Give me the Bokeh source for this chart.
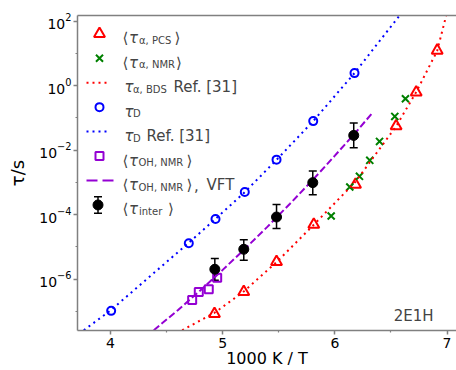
import numpy as np
from bokeh.plotting import figure
from bokeh.models import (FixedTicker, LogTickFormatter, Label, Whisker, TeeHead,
                          ColumnDataSource, LinearAxis, Range1d)
from bokeh.embed import file_html
from bokeh.resources import INLINE

# ---------------- data ----------------
# x = 1000 K / T, y = tau / s
x_alpha_pcs = [4.927, 5.188, 5.480, 5.812, 6.184, 6.546, 6.725, 6.912]
tau_alpha_pcs = [8.43e-8, 4.05e-7, 3.44e-6, 4.93e-5, 8.55e-4, 5.57e-2, 0.615, 12.3]

x_alpha_nmr = [5.967, 6.133, 6.219, 6.311, 6.398, 6.534, 6.629]
tau_alpha_nmr = [9.12e-5, 7.21e-4, 1.55e-3, 4.83e-3, 1.87e-2, 0.111, 0.393]

x_alpha_bds = [4.639, 4.927, 5.188, 5.480, 5.812, 6.184, 6.546, 6.725, 6.912, 6.992]
tau_alpha_bds = [2.63e-8, 9.12e-8, 4.17e-7, 3.39e-6, 4.90e-5, 1.05e-3, 5.50e-2, 0.631, 12.0, 148.0]

x_D = [4.006, 4.698, 4.936, 5.197, 5.480, 5.807, 6.175]
tau_D = [1.05e-7, 1.30e-5, 7.36e-5, 5.05e-4, 5.08e-3, 7.96e-2, 2.44]

x_D_ref = [3.762, 4.006, 4.698, 4.936, 5.197, 5.480, 5.807, 6.175, 6.576]
tau_D_ref = [2.63e-8, 1.12e-7, 1.35e-5, 7.41e-5, 5.01e-4, 5.01e-3, 7.94e-2, 2.45, 148.0]

x_oh = [4.728, 4.787, 4.876, 4.951]
tau_oh = [2.29e-7, 4.05e-7, 4.90e-7, 1.11e-6]

x_oh_vft = [4.386, 4.6, 4.8, 5.0, 5.2, 5.4, 5.6, 5.8, 6.0, 6.2, 6.341]
tau_oh_vft = [2.63e-8, 1.10e-7, 4.47e-7, 1.95e-6, 8.91e-6, 4.27e-5, 2.19e-4,
              1.17e-3, 6.76e-3, 4.07e-2, 0.151]

x_inter = [4.930, 5.188, 5.480, 5.803, 6.168]
tau_inter = [2.04e-6, 8.49e-6, 8.49e-5, 9.86e-4, 2.87e-2]
tau_inter_lo = [9.3e-7, 3.87e-6, 3.72e-5, 4.19e-4, 1.19e-2]
tau_inter_hi = [4.38e-6, 1.69e-5, 2.06e-4, 2.25e-3, 6.90e-2]

x_ticks = [4, 5, 6, 7]
x_minor = [4.5, 5.5, 6.5]
y_ticks = [1e-6, 1e-4, 1e-2, 1e0, 1e2]
y_minor = [1e-7, 1e-5, 1e-3, 1e-1, 1e1]

# ---------------- styling / layout ----------------
RED, GREEN, BLUE, PURPLE = "#ff0000", "#008000", "#0000ff", "#9400d3"
GRAY = "#808080"
FONT = "DejaVu Sans"
W, H = 456, 370
BL, BT, BB, BR = 77, 15, 40, 0
X0, X1 = 3.706, 7.084
LY0, LY1 = -7.588, 2.173

p = figure(width=W, height=H, x_range=Range1d(X0, X1),
           y_range=Range1d(10 ** LY0, 10 ** LY1), y_axis_type="log",
           output_backend="svg", toolbar_location=None,
           min_border_left=BL, min_border_right=BR, min_border_top=BT,
           min_border_bottom=BB)
p.xgrid.visible = False
p.ygrid.visible = False
p.outline_line_color = None
p.background_fill_color = "white"
p.border_fill_color = "white"

for ax in (p.xaxis[0], p.yaxis[0]):
    ax.axis_line_color = GRAY
    ax.axis_line_width = 1.5
    ax.major_tick_line_color = GRAY
    ax.major_tick_line_width = 1.5
    ax.minor_tick_line_color = GRAY
    ax.minor_tick_line_width = 1.2
    ax.major_tick_in = 0
    ax.major_tick_out = 4
    ax.minor_tick_in = 0
    ax.minor_tick_out = 2
    ax.major_label_text_font = FONT
    ax.major_label_text_font_size = "14px"
    ax.major_label_text_color = "black"
    ax.axis_label_text_color = "black"
    ax.axis_label_text_font = FONT
    ax.axis_label_text_font_style = "normal"

p.xaxis.ticker = FixedTicker(ticks=x_ticks, minor_ticks=x_minor)
p.xaxis.major_label_standoff = 3
p.xaxis.axis_label = "1000 K / T"
p.xaxis.axis_label_text_font_size = "16px"
p.xaxis.axis_label_standoff = -2

p.yaxis.ticker = FixedTicker(ticks=y_ticks, minor_ticks=y_minor)
p.yaxis.formatter = LogTickFormatter()
p.yaxis.major_label_standoff = 2
p.yaxis.axis_label = "τ/s"
p.yaxis.axis_label_text_font_size = "18px"
p.yaxis.axis_label_standoff = 8

top = LinearAxis(ticker=FixedTicker(ticks=[]), axis_line_color=GRAY, axis_line_width=1.5,
                 major_tick_line_color=None, minor_tick_line_color=None,
                 major_label_text_font_size="0px")
p.add_layout(top, "above")

DOT, DASH = "2 4", "7 3"

# ---------------- data glyphs ----------------
p.scatter(x_alpha_pcs, tau_alpha_pcs, marker="triangle", size=11, fill_color=None,
          line_color=RED, line_width=2)
p.scatter(x_alpha_nmr, tau_alpha_nmr, marker="x", size=10, line_color=GREEN, line_width=2)
p.line(x_alpha_bds, tau_alpha_bds, line_color=RED, line_width=2, line_dash=DOT)
p.scatter(x_D, tau_D, marker="circle", size=8, fill_color=None, line_color=BLUE, line_width=2)
p.line(x_D_ref, tau_D_ref, line_color=BLUE, line_width=2, line_dash=DOT)
p.scatter(x_oh, tau_oh, marker="square", size=8, fill_color=None, line_color=PURPLE, line_width=2)
p.line(x_oh_vft, tau_oh_vft, line_color=PURPLE, line_width=2, line_dash=DASH)

src_inter = ColumnDataSource(dict(x=x_inter, y=tau_inter, lo=tau_inter_lo, hi=tau_inter_hi))
p.add_layout(Whisker(source=src_inter, base="x", upper="hi", lower="lo", dimension="height",
                     line_color="black", line_width=1.5,
                     upper_head=TeeHead(size=8, line_color="black", line_width=1.5),
                     lower_head=TeeHead(size=8, line_color="black", line_width=1.5)))
p.scatter("x", "y", source=src_inter, marker="circle", size=10, fill_color="black",
          line_color="black")

# ---------------- helpers: page pixel -> data ----------------
FL, FT = BL, BT
FR, FB = W - BR, H - BB


def dx(px):
    return X0 + (px - FL) / (FR - FL) * (X1 - X0)


def dy(py):
    return 10 ** (LY1 - (py - FT) / (FB - FT) * (LY1 - LY0))


def add_text(px, py, text, size, italic=False, align="left"):
    p.add_layout(Label(x=dx(px), y=dy(py), text=text, text_font=FONT,
                       text_font_size=f"{size}px", text_align=align,
                       text_baseline="alphabetic",
                       text_font_style="italic" if italic else "normal"))


# ---------------- legend ----------------
ROWS = [33.3 + 24.45 * i for i in range(8)]
MX, L0, L1 = 99, 86, 108
MAIN, SUB = 15, 10

p.scatter([dx(MX)], [dy(ROWS[0])], marker="triangle", size=11, fill_color=None,
          line_color=RED, line_width=2)
p.scatter([dx(MX)], [dy(ROWS[1])], marker="x", size=10, line_color=GREEN, line_width=2)
p.line([dx(L0), dx(L1)], [dy(ROWS[2])] * 2, line_color=RED, line_width=2, line_dash=DOT)
p.scatter([dx(MX)], [dy(ROWS[3])], marker="circle", size=8, fill_color=None,
          line_color=BLUE, line_width=2)
p.line([dx(L0), dx(L1)], [dy(ROWS[4])] * 2, line_color=BLUE, line_width=2, line_dash=DOT)
p.scatter([dx(MX)], [dy(ROWS[5])], marker="square", size=8, fill_color=None,
          line_color=PURPLE, line_width=2)
p.line([dx(86), dx(113)], [dy(ROWS[6])] * 2, line_color=PURPLE, line_width=2,
       line_dash="11 5")
r8, ex = ROWS[7], 97.5
p.segment([dx(ex)], [dy(r8 - 8.3)], [dx(ex)], [dy(r8 + 8.3)], line_color="black", line_width=1.5)
p.segment([dx(ex - 4), dx(ex - 4)], [dy(r8 - 8.3), dy(r8 + 8.3)],
          [dx(ex + 4), dx(ex + 4)], [dy(r8 - 8.3), dy(r8 + 8.3)], line_color="black",
          line_width=1.5)
p.scatter([dx(ex)], [dy(r8)], marker="circle", size=10, fill_color="black", line_color="black")

# (text, x, kind) kind: 0 main, 1 subscript, 2 italic main
entries = [
    [("⟨", 122, 0), ("τ", 128.5, 2), ("α, PCS", 138.5, 1), ("⟩", 174, 0)],
    [("⟨", 122, 0), ("τ", 128.5, 2), ("α, NMR", 138.5, 1), ("⟩", 175.5, 0)],
    [("τ", 124, 2), ("α, BDS", 132.5, 1), ("Ref. [31]", 173, 0)],
    [("τ", 124, 2), ("D", 132.5, 1)],
    [("τ", 124, 2), ("D", 132.5, 1), ("Ref. [31]", 146, 0)],
    [("⟨", 122, 0), ("τ", 128.5, 2), ("OH, NMR", 138, 1), ("⟩", 186, 0)],
    [("⟨", 122, 0), ("τ", 128.5, 2), ("OH, NMR", 138, 1), ("⟩", 186, 0),
     (",", 193.5, 0), ("VFT", 206, 0)],
    [("⟨", 122, 0), ("τ", 128.5, 2), ("inter", 138.5, 1), ("⟩", 167.5, 0)],
]
for row, pieces in zip(ROWS, entries):
    for txt, xx, kind in pieces:
        size = SUB if kind == 1 else MAIN
        base = row + (6.5 if kind == 1 else 4.5)
        add_text(xx, base, txt, size, italic=(kind == 2))

# ---------------- other texts ----------------
add_text(433, 315.7, "2E1H", 15, align="right")

open("out.html", "w").write(file_html(p, INLINE))
